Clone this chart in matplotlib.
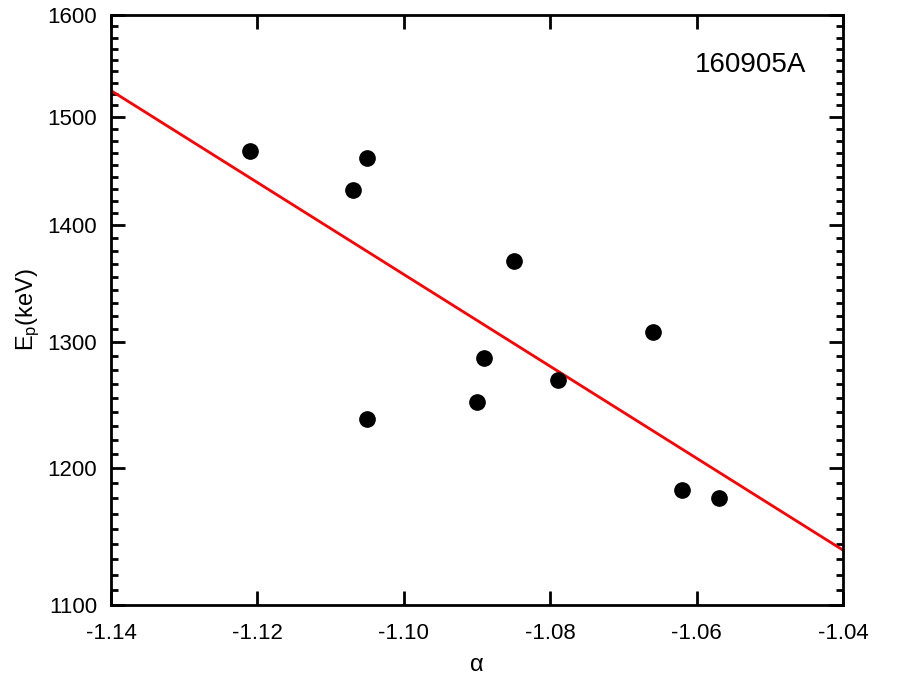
import matplotlib
matplotlib.use("Agg")
import matplotlib.pyplot as plt
from matplotlib.ticker import FixedLocator, NullFormatter, FixedFormatter
import numpy as np

plt.rcParams['font.family'] = ['Liberation Sans', 'DejaVu Sans']
plt.rcParams['mathtext.fontset'] = 'custom'
plt.rcParams['mathtext.rm'] = 'Liberation Sans'
plt.rcParams['mathtext.it'] = 'Liberation Sans:italic'

alpha = [-1.121, -1.107, -1.105, -1.105, -1.085, -1.089, -1.090, -1.079, -1.066, -1.062, -1.057]
ep = [1468, 1432, 1461, 1238, 1369, 1287, 1251, 1269, 1308, 1183, 1177]
fit_alpha = [-1.14, -1.04]
fit_ep = [1525, 1139]
x_ticks = [-1.14, -1.12, -1.10, -1.08, -1.06, -1.04]
x_labels = ['-1.14', '-1.12', '-1.10', '-1.08', '-1.06', '-1.04']
y_ticks = [1100, 1200, 1300, 1400, 1500, 1600]
y_labels = ['1100', '1200', '1300', '1400', '1500', '1600']

fig = plt.figure(figsize=(9.17, 6.95), dpi=100)
ax = fig.add_axes([111/917, 90/695, 732/917, 590/695])
ax.set_yscale('log')
ax.plot(fit_alpha, fit_ep, color='#ff0000', lw=2, zorder=2)
ax.plot(alpha, ep, 'o', color='black', ms=11, zorder=3)
ax.set_xlim(-1.14, -1.04)
ax.set_ylim(1100, 1600)

ax.xaxis.set_major_locator(FixedLocator(x_ticks))
ax.xaxis.set_major_formatter(FixedFormatter(x_labels))
ax.yaxis.set_major_locator(FixedLocator(y_ticks))
ax.yaxis.set_major_formatter(FixedFormatter(y_labels))
minor = []
for a, b in zip(y_ticks[:-1], y_ticks[1:]):
    minor.extend(np.geomspace(a, b, 10)[1:-1])
ax.yaxis.set_minor_locator(FixedLocator(minor))
ax.yaxis.set_minor_formatter(NullFormatter())
ax.xaxis.set_minor_locator(FixedLocator([]))

ax.tick_params(axis='both', which='major', direction='in', length=10, width=2,
               labelsize=16, top=True, right=True)
ax.tick_params(axis='y', which='minor', direction='in', length=5, width=2, right=True, left=True)
ax.tick_params(axis='x', which='major', pad=13)
ax.tick_params(axis='y', which='major', pad=10)
for s in ax.spines.values():
    s.set_linewidth(2)

ax.set_xlabel('α', fontsize=17, labelpad=7)
ax.set_ylabel(r'E$_\mathrm{p}$(keV)', fontsize=17, labelpad=4)
ax.text(0.95, 0.915, '160905A', transform=ax.transAxes, ha='right', va='center', fontsize=20)

fig.savefig('out.png', dpi=100)
